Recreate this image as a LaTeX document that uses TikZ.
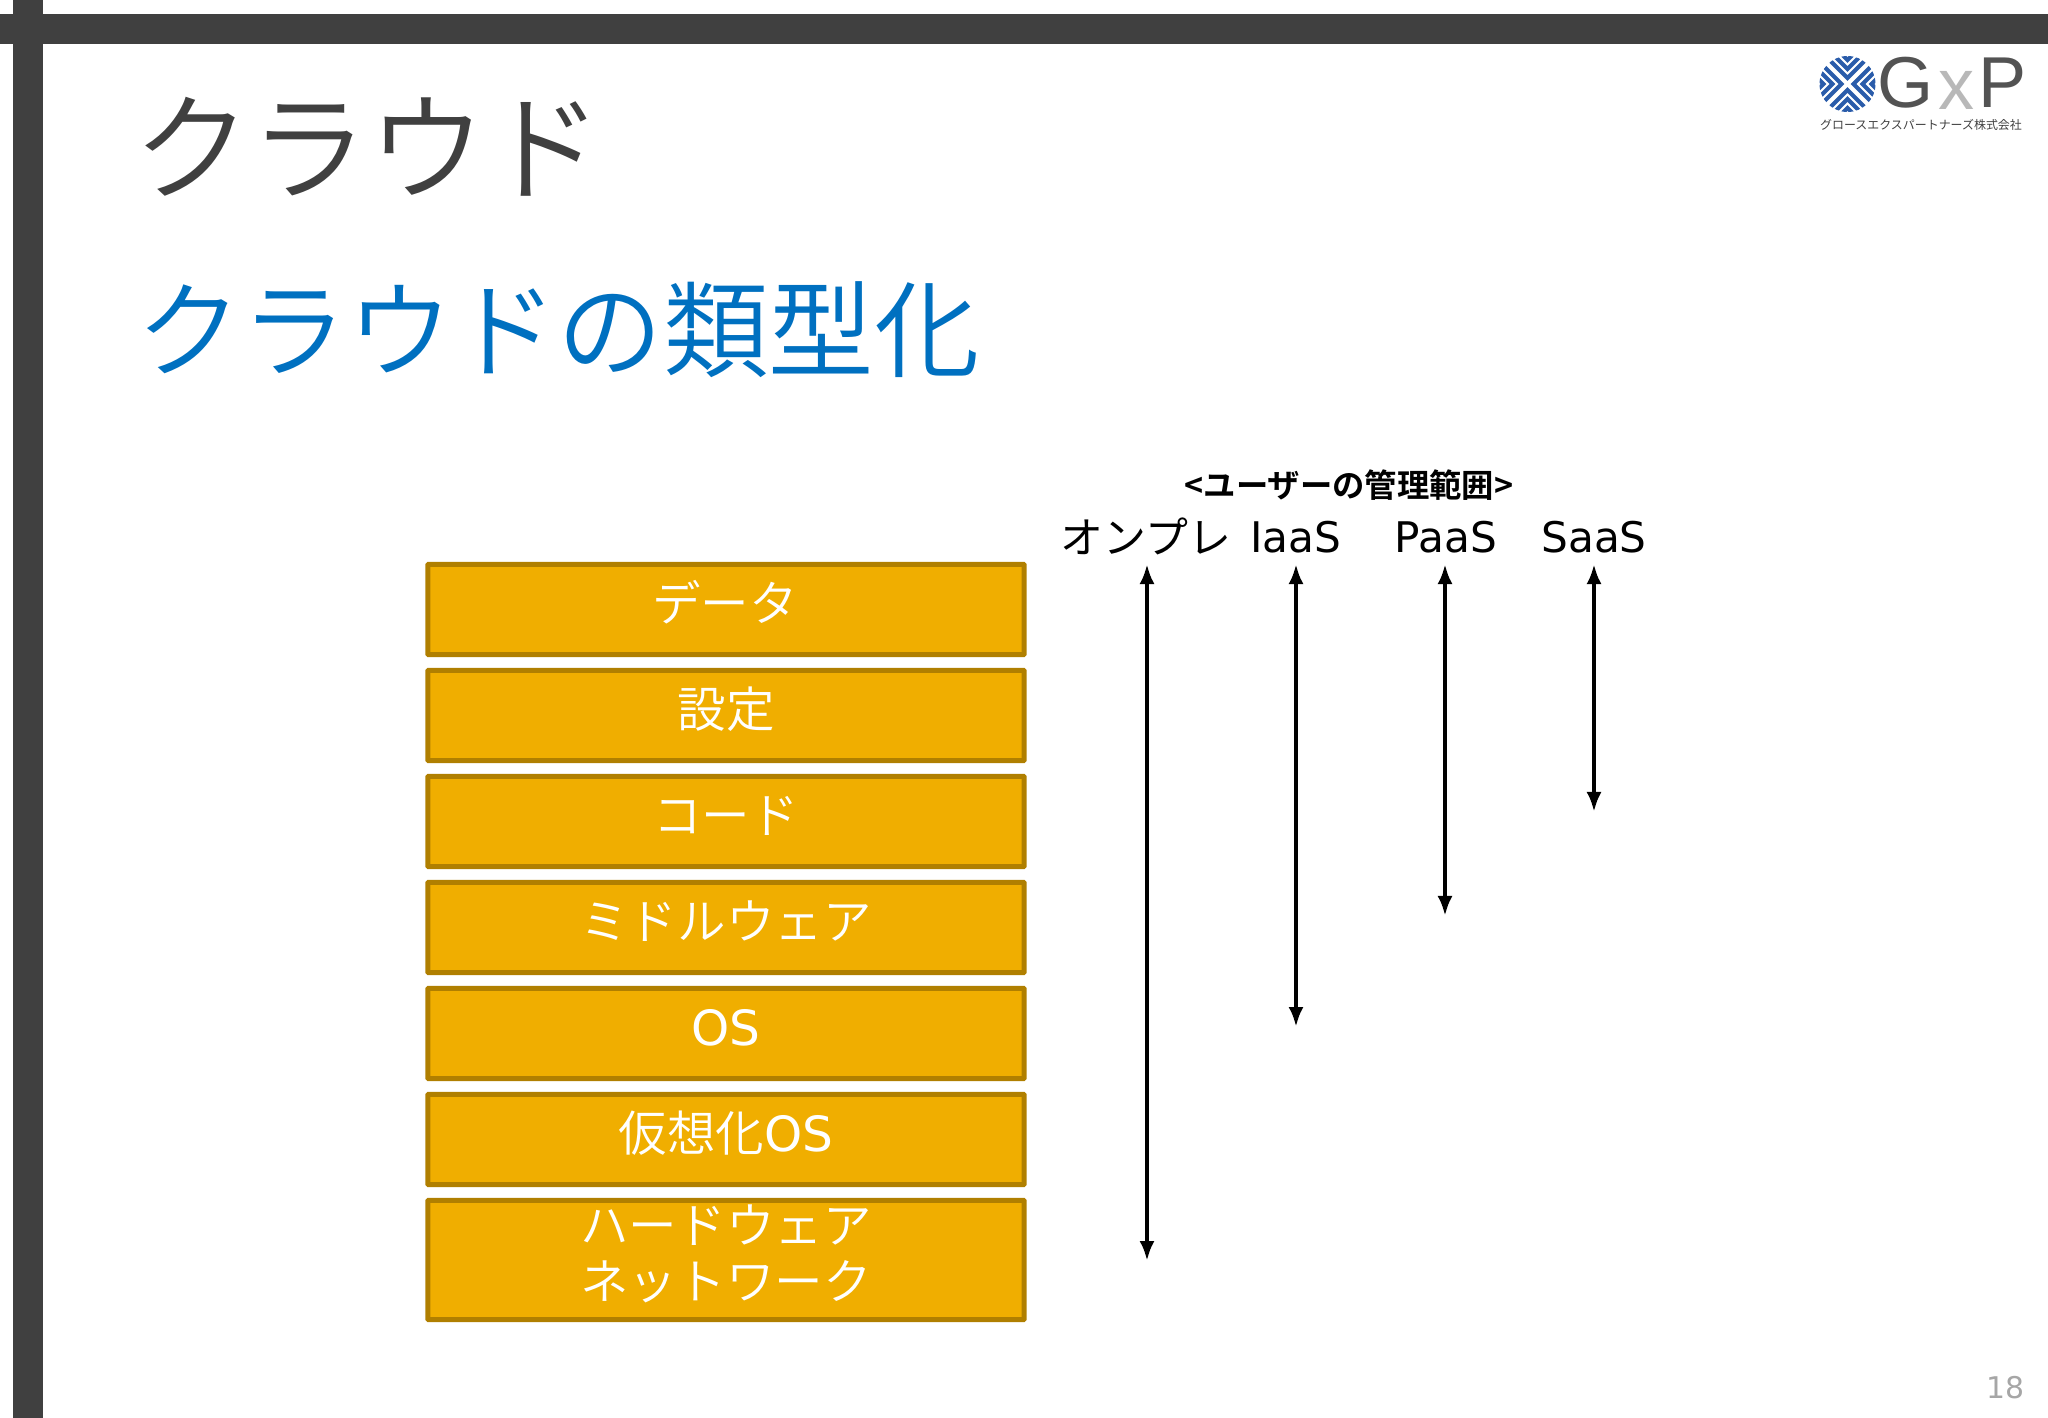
\documentclass[tikz,border=0pt]{standalone}
\usepackage{fontspec}
\setmainfont{Noto Sans CJK JP DemiLight}[BoldFont={Noto Sans CJK JP Bold}]
\newfontfamily\latinfont{DejaVu Sans}
\newfontfamily\cjkregular{Noto Sans CJK JP}
\newfontfamily\logofont{Liberation Sans}
\usetikzlibrary{arrows.meta}
\definecolor{barGray}{HTML}{404040}
\definecolor{titleBlue}{HTML}{0070C0}
\definecolor{layerFill}{HTML}{F0AE00}
\definecolor{layerEdge}{HTML}{B07F00}
\definecolor{logoBlue}{HTML}{2A5CAA}
\tikzset{
  bar/.style={fill=barGray,draw=none},
  pagetitle/.style={inner sep=0pt,text=barGray,font=\fontsize{33.4}{38}\selectfont},
  subtitle/.style={inner sep=0pt,text=titleBlue,font=\fontsize{30}{34}\selectfont},
  layerbox/.style={draw=layerEdge,fill=layerFill,line width=0.05cm,rounded corners=0.2pt,
    minimum width=5.96cm,inner sep=0pt},
  layertext/.style={inner sep=0pt,text=white,font=\fontsize{13.8}{16}\selectfont},
  rangehead/.style={inner sep=0pt,font=\cjkregular\fontsize{12.2}{14}\selectfont},
  rangelatin/.style={inner sep=0pt,font=\latinfont\fontsize{12}{14}\selectfont},
  rangearrow/.style={{Latex[length=0.2cm,width=0.15cm]}-{Latex[length=0.2cm,width=0.15cm]},line width=0.04cm,black},
}
\begin{document}
\begin{tikzpicture}[x=0.01cm,y=-0.01cm]
  \useasboundingbox (0,0) rectangle (2048,1418);
  \fill [bar] (0,14) rectangle (2048,44);
  \fill [bar] (13,0) rectangle (43,1418);

  \node [pagetitle] (mainTitle) at (368,147) {クラウド};
  \node [subtitle] (subTitle) at (558,330) {クラウドの類型化};

  \node [layerbox,minimum height=0.90cm] (dataBox) at (726,609.5) {};
  \node [layerbox,minimum height=0.90cm] (configBox) at (726,715.5) {};
  \node [layerbox,minimum height=0.90cm] (codeBox) at (726,821.5) {};
  \node [layerbox,minimum height=0.90cm] (middleBox) at (726,927.5) {};
  \node [layerbox,minimum height=0.90cm] (osBox) at (726,1033.5) {};
  \node [layerbox,minimum height=0.90cm] (virtBox) at (726,1139.5) {};
  \node [layerbox,minimum height=1.19cm] (hardBox) at (726,1260) {};

  \node [layertext] (dataText) at (725,602) {データ};
  \node [layertext] (configText) at (726,709) {設定};
  \node [layertext] (codeText) at (726,816) {コード};
  \node [layertext] (middleText) at (726,921) {ミドルウェア};
  \node [layertext] (osText) at (726,1028) {\latinfont OS};
  \node [layertext] (virtText) at (726,1133) {仮想化{\latinfont OS}};
  \node [layertext] (hardText) at (726,1225) {ハードウェア};
  \node [layertext] (netText) at (726,1282) {ネットワーク};

  \node [inner sep=0pt,font=\bfseries\fontsize{9.2}{10}\selectfont] (rangeTitle) at (1349,485) {<ユーザーの管理範囲>};
  \node [rangehead] (onpreLabel) at (1146,536) {オンプレ};
  \node [rangelatin] (iaasLabel) at (1296,537) {IaaS};
  \node [rangelatin] (paasLabel) at (1446,537) {PaaS};
  \node [rangelatin] (saasLabel) at (1594,537) {SaaS};

  \coordinate (onpreTop) at (1147,564);
  \coordinate (onpreEnd) at (1147,1261);
  \coordinate (iaasTop) at (1296,564);
  \coordinate (iaasEnd) at (1296,1027);
  \coordinate (paasTop) at (1445,564);
  \coordinate (paasEnd) at (1445,916);
  \coordinate (saasTop) at (1594,564);
  \coordinate (saasEnd) at (1594,812);
  \draw [rangearrow] (onpreTop) -- (onpreEnd);
  \draw [rangearrow] (iaasTop) -- (iaasEnd);
  \draw [rangearrow] (paasTop) -- (paasEnd);
  \draw [rangearrow] (saasTop) -- (saasEnd);

  \begin{scope}
    \clip (1847.5,84) circle (28);
    \foreach \a in {0,90,180,270} {
      \begin{scope}[shift={(1847.5,84)},rotate=\a]
        \foreach \d in {6,15,24,33}
          \draw [logoBlue,line width=0.04cm] (-40,\d+40) -- (0,\d) -- (40,\d+40);
      \end{scope}
    }
  \end{scope}
  \node [inner sep=0pt,text=barGray!90,font=\logofont\fontsize{20.5}{22}\selectfont] (logoG) at (1906,83) {G};
  \node [inner sep=0pt,text=black!28,font=\logofont\fontsize{20.5}{22}\selectfont] (logoX) at (1956,90) {x};
  \node [inner sep=0pt,text=barGray!90,font=\logofont\fontsize{20.5}{22}\selectfont] (logoP) at (2003,83) {P};
  \node [inner sep=0pt,text=barGray,font=\cjkregular\fontsize{3.4}{4}\selectfont] (logoName) at (1921,125) {グロースエクスパートナーズ株式会社};

  \node [inner sep=0pt,text=black!35,font=\latinfont\fontsize{8.5}{10}\selectfont] (pageNo) at (2005,1388) {18};
\end{tikzpicture}
\end{document}
